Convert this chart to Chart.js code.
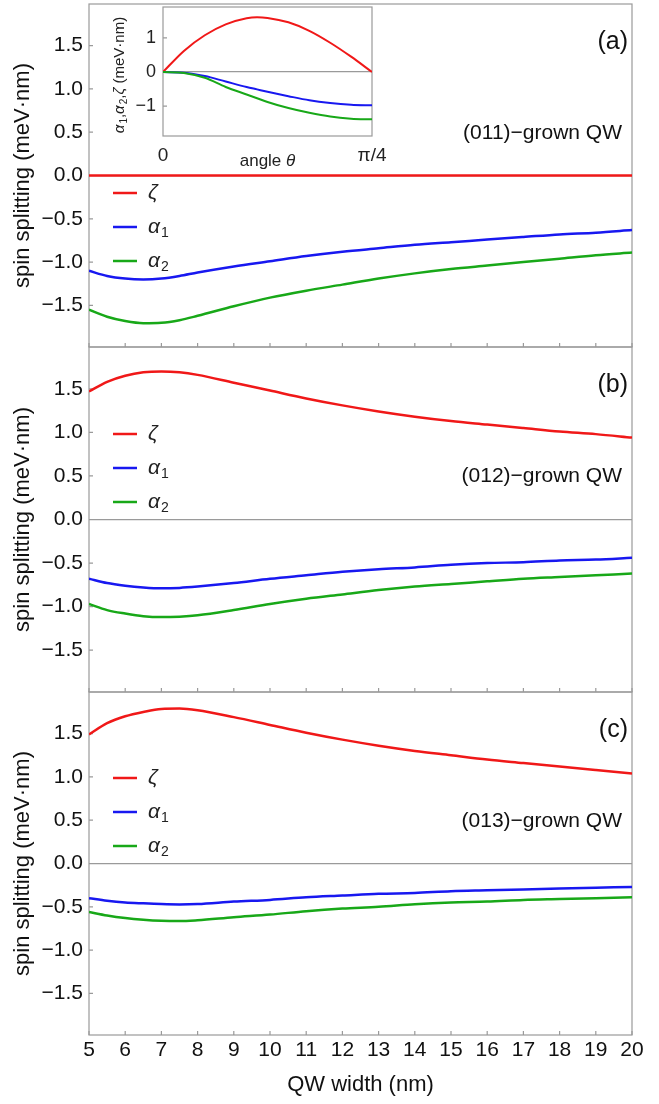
<!DOCTYPE html>
<html>
<head>
<meta charset="utf-8">
<script src="https://cdn.jsdelivr.net/npm/chart.js@4.4.0/dist/chart.umd.min.js"></script>
<style>
body { margin: 0; background: #fff; }
#wrap { position: relative; width: 659px; height: 1104px; }
canvas { position: absolute; }
</style>
</head>
<body>
<div id="wrap">
  <canvas id="panel-a" width="659" height="350" style="left:0;top:0"></canvas>
  <canvas id="panel-b" width="659" height="351" style="left:0;top:344px"></canvas>
  <canvas id="panel-c" width="659" height="415" style="left:0;top:689px"></canvas>
  <canvas id="inset" width="300" height="172" style="left:90px;top:0"></canvas>
</div>
<script>
// ---------------------------- data ----------------------------
const widths = [5, 5.5, 6, 6.5, 7, 7.5, 8, 9, 10, 11, 12, 13, 14, 15, 16, 17, 18, 19, 20];
const xTicks = [5, 6, 7, 8, 9, 10, 11, 12, 13, 14, 15, 16, 17, 18, 19, 20];
const yTicks = [-1.5, -1, -0.5, 0, 0.5, 1, 1.5];

// (011)-grown
const zetaA   = [0, 0, 0, 0, 0, 0, 0, 0, 0, 0, 0, 0, 0, 0, 0, 0, 0, 0, 0];
const alpha1A = [-1.10, -1.16, -1.19, -1.20, -1.19, -1.16, -1.12, -1.05, -0.99, -0.93, -0.88, -0.84, -0.80, -0.77, -0.74, -0.71, -0.68, -0.66, -0.63];
const alpha2A = [-1.55, -1.63, -1.68, -1.705, -1.70, -1.67, -1.62, -1.51, -1.41, -1.33, -1.26, -1.19, -1.13, -1.08, -1.04, -1.00, -0.96, -0.92, -0.89];
// (012)-grown
const zetaB   = [1.47, 1.58, 1.65, 1.69, 1.70, 1.69, 1.66, 1.57, 1.48, 1.39, 1.31, 1.24, 1.18, 1.13, 1.09, 1.05, 1.01, 0.98, 0.94];
const alpha1B = [-0.68, -0.73, -0.76, -0.78, -0.79, -0.785, -0.77, -0.73, -0.68, -0.64, -0.60, -0.57, -0.55, -0.52, -0.50, -0.49, -0.47, -0.46, -0.44];
const alpha2B = [-0.97, -1.04, -1.08, -1.11, -1.12, -1.115, -1.10, -1.04, -0.97, -0.91, -0.86, -0.81, -0.77, -0.74, -0.71, -0.68, -0.66, -0.64, -0.62];
// (013)-grown
const zetaC   = [1.49, 1.62, 1.70, 1.75, 1.785, 1.79, 1.77, 1.69, 1.60, 1.51, 1.43, 1.36, 1.30, 1.25, 1.20, 1.16, 1.12, 1.08, 1.04];
const alpha1C = [-0.40, -0.43, -0.45, -0.46, -0.468, -0.472, -0.468, -0.44, -0.42, -0.39, -0.37, -0.35, -0.34, -0.32, -0.31, -0.30, -0.29, -0.28, -0.27];
const alpha2C = [-0.56, -0.60, -0.63, -0.65, -0.662, -0.665, -0.655, -0.62, -0.59, -0.55, -0.52, -0.50, -0.47, -0.45, -0.44, -0.42, -0.41, -0.40, -0.39];

// inset: angle in units of pi/4
const insetAngle  = [0, 0.1, 0.2, 0.3, 0.4, 0.45, 0.5, 0.6, 0.7, 0.8, 0.9, 1.0];
const insetZeta   = [0, 0.62, 1.08, 1.40, 1.58, 1.61, 1.59, 1.46, 1.21, 0.86, 0.45, 0];
const insetAlpha1 = [0, -0.02, -0.12, -0.28, -0.44, -0.51, -0.58, -0.71, -0.83, -0.91, -0.96, -0.98];
const insetAlpha2 = [0, -0.03, -0.17, -0.44, -0.66, -0.77, -0.88, -1.06, -1.20, -1.31, -1.37, -1.39];
const insetYTicks = [-1, 0, 1];
const insetXTicks = [0, 1];

const RED = '#f01818', BLUE = '#1818f0', GREEN = '#18a818';
const FRAME = '#9a9a9a';
const FONT = '"Liberation Sans", Arial, sans-serif';

const pts = (xs, ys) => xs.map((x, i) => ({ x: x, y: ys[i] }));
const fmt = v => (v < 0 ? '\u2212' : '') + Math.abs(v).toFixed(1);

// draws an italic greek symbol with optional subscript, returns end x
function drawSymbol(ctx, sym, sub, x, y, size) {
    ctx.font = 'italic ' + size + 'px ' + FONT;
    ctx.textBaseline = 'middle';
    ctx.textAlign = 'left';
    ctx.fillText(sym, x, y);
    let w = ctx.measureText(sym).width;
    if (sub) {
        ctx.font = Math.round(size * 0.66) + 'px ' + FONT;
        ctx.fillText(sub, x + w + 1, y + size * 0.3);
        w += 1 + ctx.measureText(sub).width;
    }
    return x + w;
}

const framePlugin = {
    id: 'frame',
    beforeDatasetsDraw(chart, args, opts) {
        const { ctx, chartArea: a, scales } = chart;
        ctx.save();
        ctx.strokeStyle = FRAME;
        ctx.lineWidth = 1.2;
        ctx.strokeRect(a.left, a.top, a.right - a.left, a.bottom - a.top);
        ctx.beginPath();
        (opts.yTicks || []).forEach(v => {
            const y = scales.y.getPixelForValue(v);
            ctx.moveTo(a.left, y);
            ctx.lineTo(a.left + 4, y);
        });
        (opts.xTicks || []).forEach(v => {
            const x = scales.x.getPixelForValue(v);
            ctx.moveTo(x, a.bottom);
            ctx.lineTo(x, a.bottom - 4);
        });
        ctx.stroke();
        ctx.restore();
    }
};

const notesPlugin = {
    id: 'notes',
    afterDraw(chart, args, opts) {
        if (!opts.tag) return;
        const { ctx, chartArea: a } = chart;
        ctx.save();
        ctx.fillStyle = '#111';
        ctx.textAlign = 'right';
        ctx.textBaseline = 'middle';
        ctx.font = '25px ' + FONT;
        ctx.fillText(opts.tag, 628, a.top + 38);
        ctx.font = '21px ' + FONT;
        ctx.fillText(opts.caption, 622, a.top + 129);

        // legend
        const items = [['\u03B6', '', RED], ['\u03B1', '1', BLUE], ['\u03B1', '2', GREEN]];
        items.forEach((it, i) => {
            const y = a.top + opts.legendTop + i * 34;
            ctx.strokeStyle = it[2];
            ctx.lineWidth = 2.5;
            ctx.beginPath();
            ctx.moveTo(113, y);
            ctx.lineTo(137, y);
            ctx.stroke();
            ctx.fillStyle = '#222';
            drawSymbol(ctx, it[0], it[1], 148, y, 21);
        });
        ctx.restore();
    }
};

function makePanel(id, zeta, a1, a2, conf) {
    const line = (data, color) => ({
        data: pts(widths, data),
        borderColor: color,
        borderWidth: 2.5,
        pointRadius: 0,
        cubicInterpolationMode: 'monotone',
        fill: false
    });
    return new Chart(document.getElementById(id), {
        type: 'line',
        data: { datasets: [line(a2, GREEN), line(a1, BLUE), line(zeta, RED)] },
        options: {
            responsive: false,
            animation: false,
            events: [],
            layout: { padding: { left: 0, right: 27, top: conf.padTop, bottom: conf.padBottom } },
            plugins: {
                legend: { display: false },
                tooltip: { enabled: false },
                frame: { yTicks: yTicks, xTicks: xTicks },
                notes: { tag: conf.tag, caption: conf.caption, legendTop: conf.legendTop }
            },
            scales: {
                x: {
                    type: 'linear',
                    min: 5,
                    max: 20,
                    display: conf.showX,
                    afterBuildTicks: s => { s.ticks = xTicks.map(v => ({ value: v })); },
                    afterFit: s => { s.height = conf.xHeight; s.paddingLeft = 0; s.paddingRight = 0; },
                    grid: { display: false, drawTicks: false },
                    border: { display: false },
                    ticks: { color: '#111', padding: 3, maxRotation: 0, autoSkip: false, font: { family: FONT, size: 21 } },
                    title: { display: true, text: 'QW width (nm)', color: '#111', padding: { top: 0, bottom: 6 }, font: { family: FONT, size: 22 } }
                },
                y: {
                    min: -1.98,
                    max: 1.98,
                    afterBuildTicks: s => { s.ticks = yTicks.map(v => ({ value: v })); },
                    afterFit: s => { s.width = 89; s.paddingTop = 0; s.paddingBottom = 0; },
                    grid: {
                        drawTicks: false,
                        color: c => (c.tick && c.tick.value === 0 ? FRAME : 'rgba(0,0,0,0)'),
                        lineWidth: 1.2
                    },
                    border: { display: false },
                    ticks: { color: '#111', padding: 6, callback: v => fmt(v), font: { family: FONT, size: 21 } },
                    title: { display: true, text: 'spin splitting (meV\u00B7nm)', color: '#111', padding: { top: 10, bottom: 0 }, font: { family: FONT, size: 22 } }
                }
            }
        },
        plugins: [framePlugin, notesPlugin]
    });
}

makePanel('panel-a', zetaA, alpha1A, alpha2A, { padTop: 4, padBottom: 3, showX: false, xHeight: 0, tag: '(a)', caption: '(011)\u2212grown QW', legendTop: 189 });
makePanel('panel-b', zetaB, alpha1B, alpha2B, { padTop: 3, padBottom: 3, showX: false, xHeight: 0, tag: '(b)', caption: '(012)\u2212grown QW', legendTop: 87 });
makePanel('panel-c', zetaC, alpha1C, alpha2C, { padTop: 3, padBottom: 0, showX: true, xHeight: 69, tag: '(c)', caption: '(013)\u2212grown QW', legendTop: 86 });

// ---------------------------- inset ----------------------------
const insetLabels = {
    id: 'insetLabels',
    afterDraw(chart) {
        const { ctx, chartArea: a } = chart;
        ctx.save();
        ctx.fillStyle = '#222';
        // x title
        ctx.font = '17px ' + FONT;
        ctx.textBaseline = 'middle';
        ctx.textAlign = 'left';
        const t1 = 'angle ';
        const w1 = ctx.measureText(t1).width;
        ctx.font = 'italic 17px ' + FONT;
        const w2 = ctx.measureText('\u03B8').width;
        const x0 = (a.left + a.right) / 2 - (w1 + w2) / 2;
        ctx.font = '17px ' + FONT;
        ctx.fillText(t1, x0, 161);
        ctx.font = 'italic 17px ' + FONT;
        ctx.fillText('\u03B8', x0 + w1, 161);

        // y title, rotated
        ctx.translate(30, 75);
        ctx.rotate(-Math.PI / 2);
        const parts = [['\u03B1', '1'], [',', null], ['\u03B1', '2'], [',', null], ['\u03B6', ''], [' (meV\u00B7nm)', null]];
        let total = 0;
        parts.forEach(p => {
            if (p[1] === null) { ctx.font = '15px ' + FONT; total += ctx.measureText(p[0]).width; }
            else {
                ctx.font = 'italic 15px ' + FONT; total += ctx.measureText(p[0]).width;
                if (p[1]) { ctx.font = '10px ' + FONT; total += 1 + ctx.measureText(p[1]).width; }
            }
        });
        let x = -total / 2;
        parts.forEach(p => {
            if (p[1] === null) {
                ctx.font = '15px ' + FONT;
                ctx.textBaseline = 'middle';
                ctx.textAlign = 'left';
                ctx.fillText(p[0], x, 0);
                x += ctx.measureText(p[0]).width;
            } else {
                x = drawSymbol(ctx, p[0], p[1], x, 0, 15);
            }
        });
        ctx.restore();
    }
};

const insetLine = (data, color) => ({
    data: pts(insetAngle, data),
    borderColor: color,
    borderWidth: 2,
    pointRadius: 0,
    cubicInterpolationMode: 'monotone',
    fill: false
});

new Chart(document.getElementById('inset'), {
    type: 'line',
    data: { datasets: [insetLine(insetAlpha2, GREEN), insetLine(insetAlpha1, BLUE), insetLine(insetZeta, RED)] },
    options: {
        responsive: false,
        animation: false,
        events: [],
        layout: { padding: { left: 0, right: 18, top: 7, bottom: 0 } },
        plugins: {
            legend: { display: false },
            tooltip: { enabled: false },
            frame: { yTicks: insetYTicks, xTicks: [] }
        },
        scales: {
            x: {
                type: 'linear',
                min: 0,
                max: 1,
                afterBuildTicks: s => { s.ticks = insetXTicks.map(v => ({ value: v })); },
                afterFit: s => { s.height = 36; s.paddingLeft = 0; s.paddingRight = 0; },
                grid: { display: false, drawTicks: false },
                border: { display: false },
                ticks: { color: '#222', padding: 8, maxRotation: 0, autoSkip: false,
                         callback: v => (v === 0 ? '0' : '\u03C0/4'), font: { family: FONT, size: 19 } }
            },
            y: {
                min: -1.88,
                max: 1.91,
                afterBuildTicks: s => { s.ticks = insetYTicks.map(v => ({ value: v })); },
                afterFit: s => { s.width = 73; s.paddingTop = 0; s.paddingBottom = 0; },
                grid: {
                    drawTicks: false,
                    color: c => (c.tick && c.tick.value === 0 ? FRAME : 'rgba(0,0,0,0)'),
                    lineWidth: 1.2
                },
                border: { display: false },
                ticks: { color: '#222', padding: 7, callback: v => (v < 0 ? '\u2212' : '') + Math.abs(v), font: { family: FONT, size: 18 } }
            }
        }
    },
    plugins: [framePlugin, insetLabels]
});
</script>
</body>
</html>
